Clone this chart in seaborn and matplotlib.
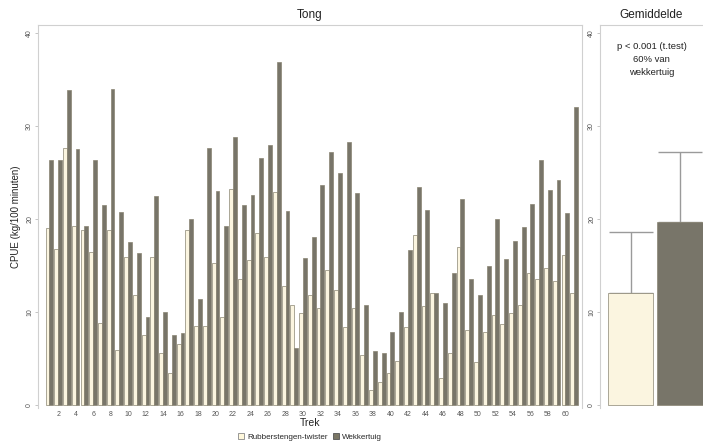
import matplotlib
matplotlib.use("Agg")
import matplotlib.pyplot as plt
import seaborn as sns
import pandas as pd
import numpy as np
from matplotlib.patches import Patch

sns.set_theme(style="white")
plt.rcParams['font.family'] = ['Liberation Sans', 'DejaVu Sans']

# ---- data ----
treks = list(range(1, 62))
rubber = [19.0, 16.8, 27.6, 19.2, 18.8, 16.4, 8.8, 18.8, 5.9, 15.9,
          11.8, 7.5, 15.9, 5.6, 3.4, 6.6, 18.8, 8.5, 8.5, 15.3,
          9.5, 23.2, 13.6, 15.6, 18.5, 15.9, 22.9, 12.8, 10.8, 9.9,
          11.8, 10.4, 14.5, 12.4, 8.4, 10.4, 5.4, 1.6, 2.5, 3.4,
          4.7, 8.4, 18.3, 10.6, 12.0, 2.9, 5.6, 17.0, 8.1, 4.6,
          7.9, 9.7, 8.7, 9.9, 10.8, 14.2, 13.6, 14.7, 13.3, 16.1, 12.0]
wekker = [26.3, 26.3, 33.9, 27.5, 19.2, 26.3, 21.5, 34.0, 20.8, 17.5,
          16.3, 9.5, 22.5, 10.0, 7.5, 7.7, 20.0, 11.4, 27.6, 23.0,
          19.2, 28.8, 21.5, 22.6, 26.6, 28.0, 36.9, 20.9, 6.1, 15.8,
          18.1, 23.7, 27.2, 24.9, 28.3, 22.8, 10.8, 5.8, 5.6, 7.8,
          10.0, 16.7, 23.4, 21.0, 12.0, 11.0, 14.2, 22.2, 13.6, 11.8,
          15.0, 20.0, 15.7, 17.6, 19.1, 21.6, 26.3, 23.1, 24.2, 20.7, 32.0]
series = ["Rubberstengen-twister", "Wekkertuig"]
mean_vals = [12.0, 19.7]
sd_vals = [6.6, 7.5]
yticks = [0, 10, 20, 30, 40]
xtick_labels = [str(t) for t in range(2, 61, 2)]

cream = "#fff8dc"
dark = "#7b7766"
palette = {series[0]: cream, series[1]: dark}

df = pd.DataFrame({
    "Trek": treks * 2,
    "CPUE": rubber + wekker,
    "Tuig": [series[0]] * len(treks) + [series[1]] * len(treks),
})
dfm = pd.DataFrame({"Tuig": series, "CPUE": mean_vals})

fig = plt.figure(figsize=(7.03, 4.48), dpi=100)
W, H = 703, 448
ax1 = fig.add_axes([38 / W, (H - 408) / H, (582 - 38) / W, (408 - 25) / H])
ax2 = fig.add_axes([600 / W, (H - 408) / H, (703 - 600) / W, (408 - 25) / H])

sns.barplot(data=df, x="Trek", y="CPUE", hue="Tuig", hue_order=series,
            palette=palette, width=0.88, gap=0, ax=ax1, legend=False,
            edgecolor="#8a8573", linewidth=0.5)
sns.barplot(data=dfm, x="Tuig", y="CPUE", hue="Tuig", hue_order=series,
            palette=palette, width=0.92, ax=ax2, legend=False,
            edgecolor="#8a8573", linewidth=0.5)
ax2.errorbar([0, 1], mean_vals, yerr=[[0, 0], sd_vals], fmt="none",
             ecolor="#9a9a9a", elinewidth=1.0, capsize=16, capthick=1.0,
             zorder=0)

for ax in (ax1, ax2):
    ax.set_ylim(-0.32, 40.86)
    ax.set_yticks(yticks)
    ax.set_yticklabels([str(v) for v in yticks], rotation=90, va="center",
                       fontsize=5, color="#555555")
    ax.tick_params(axis="y", length=2, width=0.6, color="#bbbbbb", pad=1.5, left=True)
    for s in ax.spines.values():
        s.set_color("#d0d0d0")
        s.set_linewidth(0.8)
    ax.spines["bottom"].set_visible(False)
    ax.set_xlabel("")
    ax.set_ylabel("")

ax1.set_xlim(-1.3, 60.9)
ax1.set_xticks(list(range(1, 60, 2)))
ax1.set_xticklabels(xtick_labels, fontsize=5, color="#555555")
ax1.tick_params(axis="x", length=0, pad=2)
ax1.set_xlabel("Trek", fontsize=7.5, labelpad=0, color="#222222")
ax1.set_ylabel("CPUE (kg/100 minuten)", fontsize=7, labelpad=4, color="#222222")
ax1.set_title("Tong", fontsize=8.5, pad=5, color="#222222")

ax2.set_xlim(-0.62, 1.46)
ax2.set_xticks([])
ax2.spines["right"].set_visible(False)
ax2.set_title("Gemiddelde", fontsize=8.5, pad=5, color="#222222")
ax2.text(0.42, 39.0, "p < 0.001 (t.test)\n60% van\nwekkertuig", ha="center",
         va="top", fontsize=6.8, color="#222222", linespacing=1.55)

handles = [Patch(facecolor=cream, edgecolor="#888888", linewidth=0.6),
           Patch(facecolor=dark, edgecolor="#555555", linewidth=0.6)]
fig.legend(handles, series, loc="center", bbox_to_anchor=(310 / W, 1 - 437 / H),
           ncol=2, frameon=False, fontsize=5.8, handlelength=0.8,
           handleheight=0.8, handletextpad=0.4, columnspacing=0.6)

fig.savefig("out.png", dpi=100)
